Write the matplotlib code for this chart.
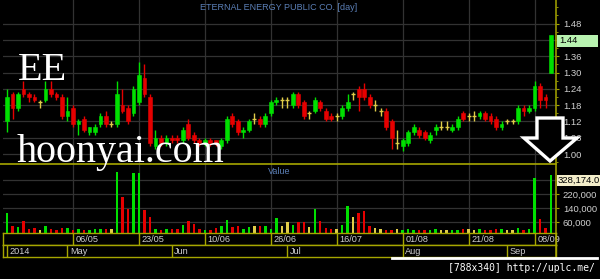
import matplotlib
matplotlib.use('Agg')
import matplotlib.pyplot as plt
import numpy as np
from matplotlib.patches import Polygon, Rectangle
from matplotlib.lines import Line2D

plt.rcParams['font.family'] = ['Liberation Sans', 'DejaVu Sans']

# ---------------- data ----------------
title = 'ETERNAL ENERGY PUBLIC CO. [day]'
open_ = [1.12,1.22,1.17,1.24,1.22,1.21,1.19,1.20,1.24,1.22,
         1.21,1.14,1.17,1.11,1.13,1.08,1.08,1.11,1.14,1.11,
         1.11,1.18,1.17,1.15,1.19,1.28,1.21,1.03,1.06,1.04,
         1.06,1.06,1.05,1.11,1.07,1.05,1.04,1.05,1.05,1.03,
         1.05,1.14,1.12,1.08,1.09,1.13,1.13,1.11,1.15,1.19,
         1.20,1.20,1.18,1.22,1.19,1.15,1.16,1.19,1.16,1.14,
         1.14,1.14,1.17,1.22,1.24,1.24,1.21,1.18,1.16,1.16,
         1.12,1.04,1.03,1.04,1.08,1.09,1.08,1.05,1.09,1.10,
         1.10,1.09,1.10,1.15,1.14,1.14,1.14,1.15,1.14,1.13,
         1.10,1.12,1.12,1.12,1.17,1.16,1.17,1.25,1.21,1.30]
high = [1.24,1.23,1.23,1.27,1.23,1.22,1.20,1.27,1.27,1.23,
        1.22,1.21,1.18,1.13,1.14,1.10,1.11,1.15,1.16,1.12,
        1.27,1.24,1.18,1.25,1.34,1.33,1.22,1.09,1.07,1.07,
        1.07,1.07,1.10,1.13,1.08,1.06,1.06,1.06,1.05,1.06,
        1.14,1.15,1.13,1.10,1.13,1.15,1.14,1.15,1.20,1.21,
        1.21,1.21,1.23,1.23,1.20,1.16,1.21,1.20,1.17,1.15,
        1.15,1.18,1.22,1.23,1.25,1.26,1.22,1.20,1.17,1.17,
        1.13,1.09,1.06,1.09,1.11,1.10,1.09,1.08,1.11,1.12,
        1.12,1.11,1.14,1.16,1.15,1.16,1.16,1.16,1.15,1.14,
        1.12,1.13,1.13,1.18,1.18,1.18,1.27,1.26,1.22,1.44]
low = [1.08,1.13,1.16,1.21,1.19,1.19,1.17,1.19,1.21,1.20,
       1.13,1.12,1.10,1.07,1.08,1.07,1.07,1.10,1.10,1.10,
       1.10,1.15,1.11,1.14,1.18,1.21,1.03,1.02,1.03,1.03,
       1.04,1.04,1.04,1.05,1.04,1.03,1.03,1.03,1.03,1.02,
       1.04,1.10,1.07,1.06,1.08,1.11,1.10,1.10,1.14,1.18,
       1.17,1.17,1.17,1.17,1.13,1.13,1.15,1.16,1.12,1.12,
       1.12,1.13,1.16,1.20,1.16,1.20,1.17,1.16,1.14,1.09,
       1.02,1.02,1.01,1.03,1.07,1.06,1.05,1.04,1.07,1.09,
       1.09,1.08,1.09,1.12,1.12,1.12,1.13,1.12,1.11,1.09,
       1.09,1.11,1.11,1.11,1.14,1.15,1.16,1.17,1.17,1.30]
close = [1.21,1.17,1.22,1.22,1.21,1.20,1.19,1.24,1.22,1.21,
         1.14,1.16,1.11,1.12,1.09,1.10,1.10,1.14,1.11,1.11,
         1.22,1.16,1.12,1.24,1.29,1.22,1.04,1.06,1.04,1.06,
         1.05,1.05,1.09,1.06,1.05,1.04,1.05,1.04,1.04,1.05,
         1.13,1.11,1.08,1.09,1.12,1.13,1.11,1.14,1.19,1.20,
         1.20,1.20,1.22,1.18,1.14,1.15,1.20,1.17,1.13,1.13,
         1.14,1.17,1.19,1.22,1.21,1.21,1.18,1.18,1.16,1.10,
         1.06,1.04,1.05,1.08,1.10,1.07,1.06,1.07,1.10,1.10,
         1.10,1.10,1.13,1.13,1.14,1.14,1.15,1.13,1.12,1.10,
         1.11,1.12,1.12,1.17,1.16,1.17,1.25,1.20,1.20,1.44]
value = [115000,38000,31000,67000,19000,25000,12000,35000,21000,12000,
         25000,25000,12000,21000,15000,15000,19000,19000,19000,19000,
         351000,203000,136000,345000,341000,130000,88000,19000,15000,19000,
         19000,21000,44000,67000,50000,21000,12000,12000,25000,35000,
         73000,29000,35000,21000,31000,40000,38000,35000,21000,86000,
         35000,59000,44000,58000,58000,29000,136000,67000,25000,21000,
         19000,44000,150000,92000,111000,121000,35000,25000,19000,15000,
         15000,19000,15000,19000,15000,15000,15000,15000,19000,15000,
         12000,15000,15000,19000,21000,15000,21000,15000,15000,21000,
         19000,15000,15000,25000,15000,21000,312000,77000,25000,328174]

date_tick_idx = [12, 24, 36, 48, 60, 72, 84, 96]
date_tick_labels = ['06/05', '23/05', '10/06', '26/06', '16/07', '01/08', '21/08', '08/09']
month_idx = [0, 11, 30, 51, 72, 91]
month_labels = ['2014', 'May', 'Jun', 'Jul', 'Aug', 'Sep']
price_ticks = [1.00, 1.06, 1.12, 1.18, 1.24, 1.30, 1.36, 1.42, 1.48]
value_ticks = [60000, 140000, 220000, 300000]
last_price_label = '1.44'
last_value_label = '328,174.0'

# ---------------- style ----------------
GREEN = '#00e000'
RED = '#e60000'
YEL = '#e0cc48'
GRID = '#323232'
AX = '#a6a600'
TXT = '#cfcfcf'
BLUE = '#5b7fb6'

W, H = 600, 279
fig = plt.figure(figsize=(6, 2.79), dpi=100, facecolor='black')
def fx(px): return px / W
def fy(py): return 1 - py / H

L, R = 3, 556
ax_p = fig.add_axes([fx(L), fy(163), (R - L) / W, 163 / H])
ax_v = fig.add_axes([fx(L), fy(232.5), (R - L) / W, (232.5 - 163) / H])
ax_d1 = fig.add_axes([fx(L), fy(245), (R - L) / W, 12.5 / H])
ax_d2 = fig.add_axes([fx(L), fy(257), (R - L) / W, 12 / H])

o = np.array(open_); h = np.array(high); l = np.array(low); c = np.array(close)
v = np.array(value, dtype=float)
n = len(o)
idx = np.arange(n)
cols = np.where(c > o, GREEN, np.where(c < o, RED, YEL))
XL = (-0.73, 99.9)

for ax in (ax_p, ax_v, ax_d1, ax_d2):
    ax.set_facecolor('black')
    ax.set_xlim(*XL)
    for s in ax.spines.values():
        s.set_visible(False)

# price panel
ax_p.set_ylim(0.967, 1.567)
ax_p.set_yticks(price_ticks)
ax_p.set_yticks(np.arange(0.97, 1.56, 0.03), minor=True)
ax_p.set_xticks(date_tick_idx)
ax_p.grid(True, color=GRID, lw=0.9, zorder=0)
ax_p.set_axisbelow(True)
ax_p.tick_params(axis='x', length=0, labelbottom=False)
ax_p.yaxis.tick_right()
ax_p.tick_params(axis='y', which='major', colors=AX, length=2.5, width=0.8,
                 labelcolor=TXT, labelsize=6.8, pad=2.5)
ax_p.tick_params(axis='y', which='minor', colors=AX, length=1.5, width=0.6)
ax_p.set_yticklabels(['' if abs(t - 1.42) < 1e-9 else f'{t:.2f}' for t in price_ticks])

ax_p.vlines(idx, l, h, colors=cols, lw=1.0, zorder=2)
body_lo = np.minimum(o, c)
body_h = np.abs(c - o)
nz = body_h > 0
ax_p.bar(idx[nz], body_h[nz], bottom=body_lo[nz], width=0.68, color=cols[nz],
         edgecolor=cols[nz], lw=0.4, zorder=3)
dj = ~nz
ax_p.hlines(o[dj], idx[dj] - 0.36, idx[dj] + 0.36, colors=YEL, lw=1.0, zorder=3)

# value panel
ax_v.set_ylim(0, 400000)
ax_v.set_yticks(value_ticks)
ax_v.set_xticks(date_tick_idx)
ax_v.grid(True, color=GRID, lw=0.9, zorder=0)
ax_v.set_axisbelow(True)
ax_v.tick_params(axis='x', length=0, labelbottom=False)
ax_v.yaxis.tick_right()
ax_v.tick_params(axis='y', colors=AX, length=2.5, width=0.8,
                 labelcolor=TXT, labelsize=6.8, pad=2.5)
ax_v.set_yticklabels(['' if t == 300000 else f'{t:,}' for t in value_ticks])
ax_v.bar(idx, v, width=0.45, color=cols, lw=0, zorder=3)

# date rows
for ax in (ax_d1, ax_d2):
    ax.set_ylim(0, 1)
    ax.set_xticks([]); ax.set_yticks([])
    for s in ax.spines.values():
        s.set_visible(True); s.set_color(AX); s.set_linewidth(1.0)
ax_d1.vlines(date_tick_idx, 0, 1, colors=AX, lw=1.0)
for t, lab in zip(date_tick_idx, date_tick_labels):
    ax_d1.text(t + 0.5, 0.45, lab, color=TXT, fontsize=6.6, ha='left', va='center')
ax_d2.vlines(month_idx, 0, 1, colors=AX, lw=1.0)
for t, lab in zip(month_idx, month_labels):
    ax_d2.text(t + 0.45, 0.45, lab, color=TXT, fontsize=6.6, ha='left', va='center')

# figure-level lines
fig.add_artist(Line2D([fx(0), fx(R)], [fy(163.5), fy(163.5)], color=AX, lw=1.2,
                      transform=fig.transFigure))
fig.add_artist(Line2D([fx(R), fx(R)], [fy(0), fy(257)], color=AX, lw=1.1,
                      transform=fig.transFigure))
fig.add_artist(Line2D([fx(392), fx(597)], [fy(258), fy(258)], color='white', lw=2.0,
                      transform=fig.transFigure))

# texts
fig.text(fx(279), fy(8), title, color=BLUE, fontsize=6.5, ha='center', va='center')
fig.text(fx(279), fy(171.5), 'Value', color=BLUE, fontsize=6.5, ha='center', va='center')
fig.text(fx(18), fy(80), 'EE', color='white', fontsize=29, family='Liberation Serif',
         ha='left', va='baseline')
fig.text(fx(17), fy(162), 'hoonyai.com', color='white', fontsize=28.8,
         family='Liberation Serif', ha='left', va='baseline')
fig.text(fx(595), fy(268), '[788x340] http://uplc.me/', color='white', fontsize=7,
         family='DejaVu Sans Mono', ha='right', va='center')

# highlighted last values
fig.add_artist(Rectangle((fx(557), fy(47)), 41 / W, 12 / H, facecolor='#b8f2b0',
                         edgecolor='none', transform=fig.transFigure))
fig.text(fx(559), fy(41), last_price_label, color='black', fontsize=6.8,
         ha='left', va='center')
fig.add_artist(Rectangle((fx(557), fy(186)), 43 / W, 11 / H, facecolor='#f3edc9',
                         edgecolor='none', transform=fig.transFigure))
fig.text(fx(558), fy(180.5), last_value_label, color='black', fontsize=6.8,
         ha='left', va='center')

# big arrow overlay
arrow_px = [(537, 118), (563, 118), (563, 138), (577, 138), (550, 161),
            (524, 138), (537, 138)]
fig.add_artist(Polygon([(fx(x), fy(y)) for x, y in arrow_px], closed=True,
                       facecolor='black', edgecolor='white', lw=2.4,
                       transform=fig.transFigure, zorder=10))

fig.savefig('out.png', dpi=100, facecolor='black')
